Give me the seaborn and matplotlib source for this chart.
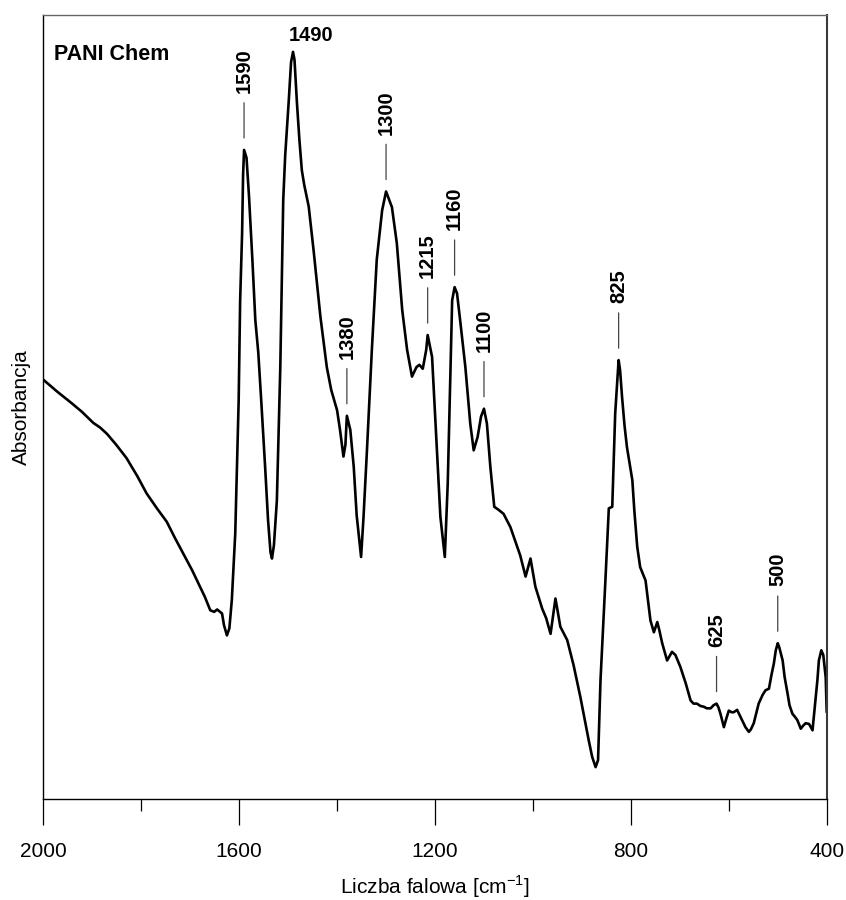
import numpy as np
import pandas as pd
import matplotlib
matplotlib.use("Agg")
import matplotlib.pyplot as plt
import seaborn as sns

# FTIR spectrum of chemically synthesised polyaniline
wavenumber = [
    2000, 1972, 1942, 1921, 1898, 1884, 1870, 1851, 1830, 1808, 1789, 1768, 1748, 1731,
    1714, 1696, 1680, 1670, 1659, 1651, 1645, 1635, 1631, 1625, 1620, 1615, 1608, 1601,
    1598, 1594, 1592, 1590, 1585, 1580, 1573, 1567, 1561, 1555, 1547, 1541, 1536, 1533,
    1529, 1523, 1516, 1510, 1506, 1499, 1494, 1490, 1487, 1482, 1477, 1472, 1467, 1458,
    1448, 1434, 1421, 1412, 1400, 1394, 1387, 1383, 1380, 1373, 1366, 1360, 1351, 1346,
    1339, 1329, 1319, 1308, 1300, 1288, 1278, 1267, 1257, 1247, 1238, 1232, 1225, 1218,
    1215, 1206, 1196, 1189, 1180, 1174, 1169, 1165, 1160, 1155, 1148, 1138, 1128, 1121,
    1113, 1106, 1100, 1094, 1087, 1079, 1070, 1060, 1046, 1032, 1026, 1015, 1005, 995,
    981, 973, 964, 954, 944, 930, 917, 903, 886, 879, 872, 867, 862, 852,
    845, 838, 835, 832, 825, 822, 818, 813, 808, 803, 797, 793, 787, 781,
    770, 760, 753, 746, 742, 736, 726, 716, 709, 699, 688, 678, 672, 665,
    658, 651, 645, 637, 631, 625, 621, 617, 610, 605, 600, 594, 590, 583,
    573, 566, 559, 555, 549, 539, 531, 525, 518, 513, 508, 504, 500, 497,
    490, 486, 480, 476, 470, 466, 460, 453, 448, 443, 436, 429, 425, 419,
    416, 411, 407, 402, 400,
]
absorbance = [
    0.535, 0.520, 0.505, 0.494, 0.480, 0.474, 0.466, 0.452, 0.435, 0.412, 0.390, 0.371, 0.354, 0.333,
    0.313, 0.292, 0.271, 0.258, 0.241, 0.239, 0.242, 0.237, 0.222, 0.209, 0.218, 0.254, 0.339, 0.509,
    0.636, 0.722, 0.796, 0.828, 0.818, 0.770, 0.688, 0.611, 0.570, 0.509, 0.424, 0.356, 0.315, 0.307,
    0.324, 0.381, 0.551, 0.764, 0.821, 0.888, 0.940, 0.953, 0.943, 0.888, 0.841, 0.802, 0.783, 0.756,
    0.700, 0.615, 0.551, 0.522, 0.496, 0.471, 0.437, 0.452, 0.489, 0.471, 0.424, 0.362, 0.309, 0.360,
    0.445, 0.573, 0.688, 0.751, 0.775, 0.755, 0.709, 0.624, 0.573, 0.539, 0.551, 0.554, 0.549, 0.573,
    0.592, 0.564, 0.445, 0.360, 0.309, 0.403, 0.530, 0.636, 0.653, 0.645, 0.607, 0.551, 0.479, 0.445,
    0.462, 0.488, 0.498, 0.479, 0.424, 0.373, 0.369, 0.364, 0.347, 0.322, 0.311, 0.284, 0.307, 0.271,
    0.243, 0.231, 0.211, 0.256, 0.220, 0.203, 0.171, 0.130, 0.075, 0.054, 0.041, 0.050, 0.152, 0.279,
    0.371, 0.373, 0.432, 0.492, 0.560, 0.547, 0.513, 0.477, 0.449, 0.430, 0.407, 0.369, 0.322, 0.296,
    0.279, 0.228, 0.213, 0.226, 0.216, 0.199, 0.177, 0.188, 0.184, 0.169, 0.148, 0.126, 0.122, 0.122,
    0.119, 0.118, 0.116, 0.116, 0.120, 0.122, 0.117, 0.109, 0.092, 0.103, 0.113, 0.111, 0.111, 0.114,
    0.101, 0.092, 0.086, 0.089, 0.097, 0.122, 0.133, 0.139, 0.141, 0.158, 0.173, 0.190, 0.199, 0.194,
    0.177, 0.156, 0.135, 0.120, 0.109, 0.106, 0.101, 0.090, 0.094, 0.097, 0.096, 0.088, 0.114, 0.152,
    0.177, 0.190, 0.184, 0.155, 0.111,
]

# band positions marked on the spectrum
side_peaks = [1590, 1380, 1300, 1215, 1160, 1100, 825, 625, 500]
top_peak = 1490

major_ticks = [2000, 1600, 1200, 800, 400]
minor_ticks = [1800, 1400, 1000, 600]

sns.set_style("ticks")
plt.rcParams["font.family"] = ["Liberation Sans", "DejaVu Sans"]
plt.rcParams["text.color"] = "black"
plt.rcParams["axes.labelcolor"] = "black"
plt.rcParams["xtick.color"] = "black"

fig = plt.figure(figsize=(8.46, 9.0), dpi=100)
ax = fig.add_axes([0.0512, 0.1119, 0.9260, 0.8714])

df = pd.DataFrame({"wn": wavenumber, "A": absorbance})
sns.lineplot(data=df, x="wn", y="A", ax=ax, color="black", linewidth=1.9,
             estimator=None, sort=False)

ax.set_xlim(2000, 400)
ax.set_ylim(0, 1)

ax.set_xticks(major_ticks)
ax.set_xticklabels([str(t) for t in major_ticks])
ax.set_xticks(minor_ticks, minor=True)
ax.set_yticks([])
ax.tick_params(axis="x", which="major", length=18.5, width=0.9, direction="out",
               pad=12, labelsize=15, colors="black")
ax.tick_params(axis="x", which="minor", length=8.9, width=0.9, direction="out",
               colors="black")

ax.set_xlabel(r"Liczba falowa [cm$^{\mathregular{-1}}$]", fontsize=15, labelpad=9)
ax.set_ylabel("Absorbancja", fontsize=15, labelpad=9)

for side in ["left", "bottom"]:
    ax.spines[side].set_color("black")
    ax.spines[side].set_linewidth(1.0)
ax.spines["top"].set_color("#666666")
ax.spines["top"].set_linewidth(1.0)
ax.spines["right"].set_color("#3a3a3a")
ax.spines["right"].set_linewidth(1.5)

wn_asc = np.array(wavenumber, dtype=float)[::-1]
a_asc = np.array(absorbance, dtype=float)[::-1]

for p in side_peaks:
    a = float(np.interp(p, wn_asc, a_asc))
    ax.annotate("", xy=(p, a), xytext=(0, 34), textcoords="offset points",
                arrowprops=dict(arrowstyle="-", color="#444444", lw=0.9,
                                shrinkA=0, shrinkB=8.6))
    ax.annotate(str(p), xy=(p, a), xytext=(0, 41), textcoords="offset points",
                rotation=90, ha="center", va="bottom", fontsize=14.5,
                fontweight="bold", color="black")

a_top = float(np.interp(top_peak, wn_asc, a_asc))
ax.annotate(str(top_peak), xy=(top_peak, a_top), xytext=(12.7, 8),
            textcoords="offset points", ha="center", va="baseline",
            fontsize=14.5, fontweight="bold", color="black")

ax.text(0.014, 0.9426, "PANI Chem", transform=ax.transAxes, ha="left",
        va="baseline", fontsize=15.5, fontweight="bold", color="black")

fig.savefig("out.png", dpi=100)
